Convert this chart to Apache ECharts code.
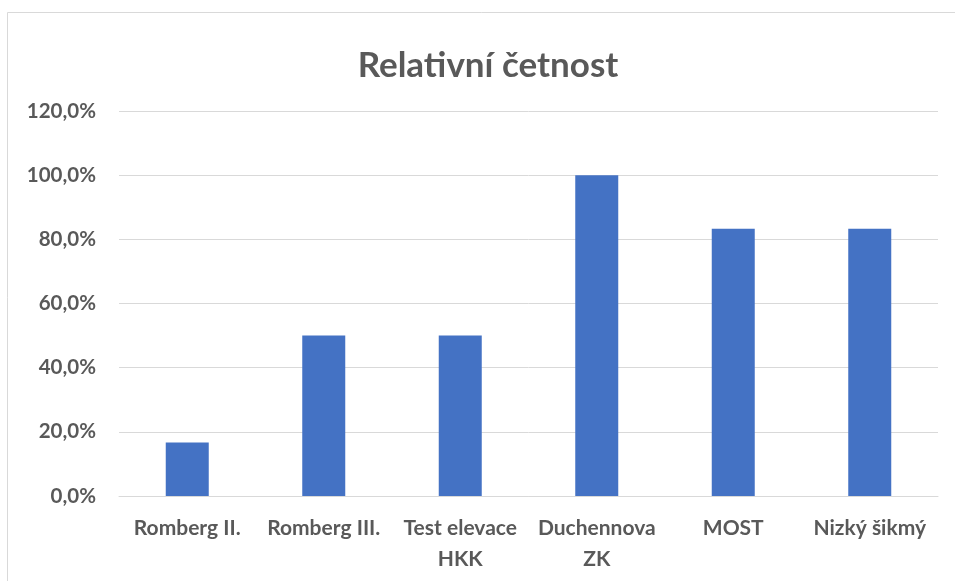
<!DOCTYPE html>
<html>
<head>
<meta charset="utf-8">
<script src="https://cdn.jsdelivr.net/npm/echarts@6/dist/echarts.min.js"></script>
<style>
  html, body { margin: 0; padding: 0; background: #fff; }
  #chart { width: 955px; height: 581px; }
</style>
</head>
<body>
<div id="chart"></div>
<script>
// Test categories (line breaks as they wrap under the axis)
const categories = ['Romberg II.', 'Romberg III.', 'Test elevace\nHKK', 'Duchennova\nZK', 'MOST', 'Nizký šikmý'];
// Relative frequency in percent
const relFreq = [16.7, 50.0, 50.0, 100.0, 83.3, 83.3];
const yTicks = { min: 0, max: 120, step: 20 };

const FONT = 'Lato, "Open Sans", sans-serif';
const TEXT = '#595959';
const GRID = '#d9d9d9';

const chart = echarts.init(document.getElementById('chart'), null, { renderer: 'canvas' });
chart.setOption({
  animation: false,
  backgroundColor: '#ffffff',
  graphic: [{
    type: 'rect',
    shape: { x: 7.5, y: 12.5, width: 1000, height: 1000 },
    style: { fill: 'none', stroke: GRID, lineWidth: 1 },
    silent: true
  }],
  title: {
    text: 'Relativní četnost',
    left: 483,
    textAlign: 'center',
    top: 43,
    textStyle: { fontFamily: FONT, fontSize: 35, fontWeight: 'bold', color: TEXT }
  },
  grid: { left: 119, right: 17, top: 111, bottom: 85, containLabel: false },
  xAxis: {
    type: 'category',
    data: categories,
    axisLine: { show: true, lineStyle: { color: GRID, width: 1 } },
    axisTick: { show: false },
    axisLabel: {
      interval: 0,
      margin: 17,
      fontFamily: FONT, fontSize: 21, fontWeight: 'bold', color: TEXT,
      lineHeight: 31
    }
  },
  yAxis: {
    type: 'value',
    min: yTicks.min,
    max: yTicks.max,
    interval: yTicks.step,
    axisLine: { show: false },
    axisTick: { show: false },
    splitLine: { lineStyle: { color: GRID, width: 1 } },
    axisLabel: {
      margin: 23,
      fontFamily: FONT, fontSize: 20.5, fontWeight: 'bold', color: TEXT,
      formatter: v => v.toFixed(1).replace('.', ',') + '%'
    }
  },
  series: [{
    type: 'bar',
    data: relFreq,
    barWidth: 43,
    itemStyle: { color: '#4472C4' }
  }]
});
</script>
</body>
</html>
